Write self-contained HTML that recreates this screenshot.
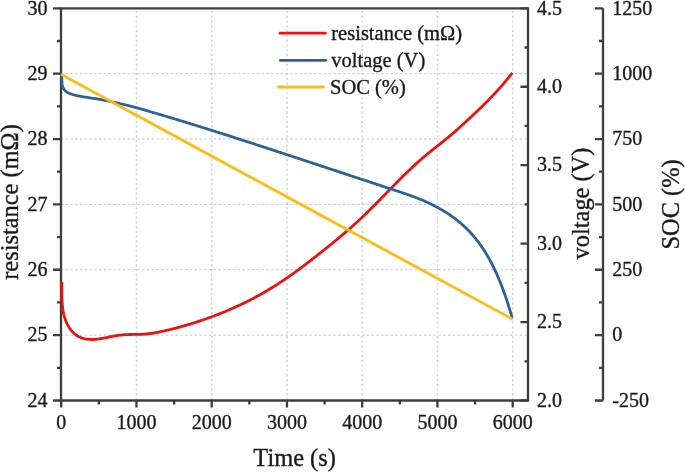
<!DOCTYPE html>
<html><head><meta charset="utf-8"><style>
html,body{margin:0;padding:0;background:#fff;}
body{width:685px;height:472px;overflow:hidden;font-family:"Liberation Serif", serif;}
svg{display:block;will-change:transform;}
</style></head><body>
<svg width="685" height="472" viewBox="0 0 685 472">
<rect width="685" height="472" fill="#fff"/>
<path d="M136.45,8.30V400.50M211.70,8.30V400.50M286.95,8.30V400.50M362.20,8.30V400.50M437.45,8.30V400.50M512.70,8.30V400.50" stroke="#d2d2d2" stroke-width="1.5" stroke-dasharray="2.2,2.58" stroke-dashoffset="-2.6" fill="none"/>
<path d="M61.00,335.13H528.00M61.00,269.77H528.00M61.00,204.40H528.00M61.00,139.03H528.00M61.00,73.67H528.00" stroke="#c4c4c4" stroke-width="1.0" stroke-dasharray="2.4,2.38" stroke-dashoffset="0.2" fill="none"/>
<path d="M61.00,8.30H528.00V400.50H61.00Z" stroke="#3d3d3d" stroke-width="2.3" fill="none"/>
<path d="M61.20,400.50V407.50M136.45,400.50V407.50M211.70,400.50V407.50M286.95,400.50V407.50M362.20,400.50V407.50M437.45,400.50V407.50M512.70,400.50V407.50M98.83,400.50V404.50M174.08,400.50V404.50M249.33,400.50V404.50M324.58,400.50V404.50M399.83,400.50V404.50M475.08,400.50V404.50M61.00,400.50H53.00M61.00,335.13H53.00M61.00,269.77H53.00M61.00,204.40H53.00M61.00,139.03H53.00M61.00,73.67H53.00M61.00,8.30H53.00M61.00,367.82H57.00M61.00,302.45H57.00M61.00,237.08H57.00M61.00,171.72H57.00M61.00,106.35H57.00M61.00,40.98H57.00M528.00,400.50H520.50M528.00,322.06H520.50M528.00,243.62H520.50M528.00,165.18H520.50M528.00,86.74H520.50M528.00,8.30H520.50M528.00,361.28H524.50M528.00,282.84H524.50M528.00,204.40H524.50M528.00,125.96H524.50M528.00,47.52H524.50M603.00,8.30V400.50M603.00,400.50H595.00M603.00,335.13H595.00M603.00,269.77H595.00M603.00,204.40H595.00M603.00,139.03H595.00M603.00,73.67H595.00M603.00,8.30H595.00M603.00,367.82H599.00M603.00,302.45H599.00M603.00,237.08H599.00M603.00,171.72H599.00M603.00,106.35H599.00M603.00,40.98H599.00" stroke="#3d3d3d" stroke-width="2.3" fill="none"/>
<path d="M61.69,282.02L61.72,283.50L61.74,284.97L61.75,286.44L61.76,287.90L61.77,289.36L61.78,290.83L61.79,292.29L61.81,293.75L61.84,295.21L61.87,296.66L61.92,298.12L61.97,299.58L62.05,301.04L62.14,302.51L62.25,303.97L62.38,305.44L62.54,306.91L62.72,308.38L62.94,309.85L63.18,311.31L63.46,312.77L63.77,314.23L64.12,315.67L64.52,317.11L64.96,318.54L65.45,319.95L65.98,321.34L66.57,322.72L67.21,324.08L67.90,325.41L68.65,326.71L69.45,327.97L70.29,329.18L71.19,330.35L72.14,331.46L73.14,332.52L74.19,333.51L75.29,334.43L76.44,335.27L77.64,336.04L78.88,336.72L80.17,337.31L81.50,337.83L82.87,338.27L84.26,338.64L85.69,338.94L87.13,339.17L88.59,339.34L90.07,339.44L91.55,339.49L93.04,339.48L94.53,339.41L96.02,339.30L97.50,339.14L98.98,338.95L100.45,338.72L101.92,338.46L103.38,338.18L104.84,337.88L106.30,337.57L107.76,337.26L109.21,336.95L110.66,336.64L112.11,336.34L113.56,336.07L115.00,335.81L116.45,335.58L117.90,335.37L119.35,335.19L120.80,335.03L122.25,334.89L123.70,334.77L125.16,334.68L126.62,334.61L128.09,334.56L129.56,334.51L131.03,334.48L132.50,334.46L133.97,334.44L135.44,334.41L136.92,334.39L138.39,334.36L139.86,334.32L141.33,334.26L142.80,334.19L144.26,334.10L145.73,333.98L147.19,333.84L148.64,333.68L150.10,333.49L151.55,333.28L153.00,333.06L154.44,332.82L155.89,332.56L157.33,332.29L158.78,332.01L160.22,331.72L161.66,331.43L163.09,331.12L164.53,330.81L165.97,330.49L167.40,330.17L168.83,329.83L170.27,329.49L171.70,329.14L173.13,328.79L174.55,328.42L175.98,328.05L177.40,327.68L178.83,327.30L180.25,326.91L181.67,326.52L183.09,326.12L184.50,325.71L185.92,325.30L187.33,324.89L188.74,324.46L190.15,324.04L191.56,323.61L192.97,323.17L194.37,322.73L195.78,322.28L197.18,321.83L198.58,321.37L199.98,320.91L201.37,320.44L202.76,319.97L204.16,319.49L205.55,319.01L206.93,318.52L208.32,318.03L209.70,317.53L211.08,317.02L212.46,316.51L213.84,316.00L215.21,315.48L216.59,314.95L217.96,314.42L219.32,313.88L220.69,313.34L222.05,312.79L223.41,312.24L224.77,311.68L226.13,311.11L227.48,310.54L228.83,309.97L230.18,309.38L231.53,308.80L232.87,308.21L234.21,307.61L235.55,307.00L236.88,306.40L238.22,305.78L239.55,305.16L240.87,304.53L242.20,303.90L243.52,303.26L244.84,302.62L246.15,301.97L247.47,301.32L248.78,300.66L250.08,299.99L251.39,299.32L252.69,298.64L253.99,297.96L255.28,297.27L256.58,296.57L257.86,295.87L259.15,295.17L260.43,294.45L261.71,293.73L262.99,293.01L264.26,292.28L265.53,291.54L266.80,290.80L268.06,290.05L269.32,289.30L270.58,288.54L271.83,287.77L273.08,287.00L274.32,286.22L275.57,285.44L276.81,284.65L278.04,283.85L279.27,283.05L280.50,282.24L281.73,281.43L282.95,280.61L284.17,279.79L285.39,278.96L286.60,278.13L287.81,277.30L289.02,276.45L290.23,275.61L291.43,274.76L292.63,273.91L293.83,273.05L295.02,272.19L296.22,271.32L297.41,270.45L298.59,269.58L299.78,268.70L300.96,267.82L302.15,266.94L303.32,266.05L304.50,265.17L305.68,264.27L306.85,263.38L308.02,262.48L309.19,261.59L310.36,260.69L311.52,259.78L312.69,258.88L313.85,257.97L315.01,257.06L316.17,256.15L317.33,255.24L318.49,254.33L319.64,253.42L320.80,252.50L321.95,251.59L323.11,250.67L324.26,249.75L325.41,248.83L326.55,247.91L327.70,246.99L328.85,246.07L329.99,245.15L331.13,244.22L332.28,243.30L333.41,242.37L334.55,241.44L335.69,240.51L336.82,239.57L337.95,238.64L339.08,237.70L340.21,236.76L341.33,235.81L342.45,234.87L343.57,233.92L344.69,232.97L345.81,232.02L346.92,231.06L348.03,230.10L349.13,229.14L350.24,228.17L351.34,227.20L352.44,226.23L353.53,225.25L354.62,224.27L355.71,223.29L356.79,222.30L357.88,221.31L358.95,220.31L360.03,219.31L361.10,218.31L362.16,217.30L363.23,216.28L364.29,215.27L365.35,214.25L366.40,213.22L367.45,212.20L368.50,211.17L369.55,210.14L370.59,209.10L371.64,208.06L372.68,207.02L373.72,205.98L374.75,204.93L375.79,203.89L376.82,202.84L377.85,201.79L378.88,200.74L379.91,199.69L380.94,198.63L381.97,197.58L383.00,196.52L384.03,195.47L385.06,194.41L386.08,193.36L387.11,192.30L388.14,191.24L389.16,190.19L390.19,189.13L391.22,188.08L392.25,187.03L393.28,185.97L394.31,184.92L395.34,183.87L396.38,182.82L397.41,181.78L398.45,180.73L399.49,179.69L400.53,178.65L401.57,177.61L402.61,176.58L403.66,175.54L404.71,174.51L405.76,173.49L406.82,172.46L407.87,171.44L408.93,170.43L410.00,169.41L411.06,168.41L412.13,167.40L413.21,166.40L414.28,165.40L415.37,164.41L416.45,163.43L417.54,162.45L418.64,161.47L419.73,160.50L420.84,159.53L421.95,158.57L423.06,157.62L424.18,156.67L425.30,155.73L426.43,154.79L427.56,153.86L428.69,152.93L429.83,152.01L430.98,151.09L432.12,150.17L433.27,149.26L434.41,148.34L435.56,147.43L436.71,146.52L437.86,145.61L439.01,144.70L440.16,143.79L441.31,142.87L442.45,141.96L443.60,141.04L444.74,140.11L445.88,139.19L447.01,138.26L448.14,137.32L449.27,136.38L450.39,135.44L451.51,134.49L452.63,133.54L453.74,132.58L454.85,131.62L455.96,130.66L457.06,129.69L458.16,128.72L459.26,127.75L460.35,126.77L461.45,125.79L462.54,124.80L463.63,123.82L464.71,122.83L465.80,121.83L466.88,120.84L467.96,119.84L469.03,118.84L470.11,117.84L471.19,116.83L472.26,115.83L473.33,114.82L474.40,113.81L475.47,112.80L476.53,111.78L477.60,110.77L478.66,109.75L479.72,108.72L480.77,107.70L481.83,106.67L482.88,105.64L483.93,104.61L484.97,103.57L486.01,102.53L487.05,101.49L488.08,100.44L489.11,99.39L490.14,98.33L491.16,97.28L492.18,96.21L493.19,95.15L494.20,94.08L495.20,93.00L496.20,91.92L497.20,90.84L498.19,89.75L499.17,88.66L500.15,87.56L501.12,86.45L502.08,85.35L503.04,84.23L504.00,83.11L504.94,81.99L505.89,80.86L506.82,79.72L507.75,78.58L508.67,77.43L509.58,76.28L510.49,75.12L511.39,73.96L512.28,72.78" stroke="#ee1111" stroke-width="2.8" fill="none" stroke-linejoin="round"/>
<path d="M61.84,74.02L61.84,75.27L61.83,76.59L61.82,77.97L61.82,79.38L61.86,80.82L61.94,82.26L62.09,83.68L62.32,85.07L62.65,86.41L63.10,87.67L63.67,88.85L64.38,89.92L65.26,90.87L66.28,91.70L67.43,92.42L68.66,93.05L69.97,93.59L71.31,94.08L72.66,94.51L74.01,94.90L75.36,95.25L76.70,95.56L78.05,95.85L79.39,96.12L80.73,96.36L82.08,96.58L83.42,96.80L84.76,97.01L86.10,97.21L87.44,97.41L88.79,97.62L90.13,97.83L91.47,98.05L92.82,98.27L94.16,98.49L95.51,98.72L96.85,98.95L98.20,99.18L99.54,99.42L100.89,99.66L102.23,99.91L103.58,100.16L104.92,100.41L106.27,100.67L107.61,100.93L108.96,101.20L110.30,101.47L111.64,101.75L112.98,102.03L114.32,102.31L115.66,102.60L117.00,102.90L118.34,103.20L119.68,103.50L121.01,103.81L122.35,104.12L123.68,104.44L125.01,104.76L126.34,105.09L127.67,105.42L129.00,105.76L130.33,106.10L131.65,106.44L132.97,106.79L134.30,107.14L135.62,107.50L136.94,107.86L138.26,108.22L139.58,108.59L140.89,108.96L142.21,109.33L143.53,109.70L144.84,110.08L146.16,110.46L147.47,110.84L148.79,111.22L150.10,111.60L151.41,111.98L152.73,112.37L154.04,112.75L155.35,113.14L156.66,113.53L157.98,113.92L159.29,114.30L160.60,114.69L161.91,115.08L163.22,115.47L164.53,115.86L165.84,116.26L167.15,116.65L168.47,117.04L169.78,117.44L171.09,117.83L172.40,118.22L173.71,118.62L175.02,119.02L176.32,119.41L177.63,119.81L178.94,120.21L180.25,120.61L181.56,121.01L182.87,121.40L184.18,121.81L185.49,122.21L186.79,122.61L188.10,123.01L189.41,123.41L190.72,123.81L192.02,124.22L193.33,124.62L194.64,125.03L195.95,125.43L197.25,125.84L198.56,126.24L199.87,126.65L201.17,127.06L202.48,127.47L203.78,127.87L205.09,128.28L206.40,128.69L207.70,129.10L209.01,129.51L210.31,129.92L211.62,130.33L212.92,130.74L214.23,131.16L215.53,131.57L216.84,131.98L218.14,132.39L219.45,132.81L220.75,133.22L222.06,133.64L223.36,134.05L224.67,134.46L225.97,134.88L227.27,135.30L228.58,135.71L229.88,136.13L231.18,136.55L232.49,136.96L233.79,137.38L235.09,137.80L236.40,138.22L237.70,138.64L239.00,139.06L240.31,139.48L241.61,139.90L242.91,140.32L244.22,140.74L245.52,141.16L246.82,141.58L248.12,142.00L249.43,142.42L250.73,142.84L252.03,143.27L253.33,143.69L254.64,144.11L255.94,144.53L257.24,144.96L258.54,145.38L259.84,145.80L261.15,146.23L262.45,146.65L263.75,147.08L265.05,147.50L266.35,147.93L267.66,148.35L268.96,148.78L270.26,149.20L271.56,149.63L272.86,150.05L274.16,150.48L275.46,150.91L276.77,151.33L278.07,151.76L279.37,152.19L280.67,152.61L281.97,153.04L283.27,153.47L284.57,153.89L285.88,154.32L287.18,154.75L288.48,155.18L289.78,155.61L291.08,156.03L292.38,156.46L293.68,156.89L294.98,157.32L296.29,157.75L297.59,158.17L298.89,158.60L300.19,159.03L301.49,159.46L302.79,159.89L304.09,160.32L305.39,160.75L306.69,161.18L307.99,161.61L309.30,162.04L310.60,162.46L311.90,162.89L313.20,163.32L314.50,163.75L315.80,164.18L317.10,164.61L318.40,165.04L319.70,165.47L321.00,165.90L322.30,166.33L323.60,166.76L324.90,167.19L326.20,167.62L327.50,168.05L328.80,168.48L330.11,168.91L331.41,169.34L332.71,169.77L334.01,170.20L335.31,170.63L336.61,171.06L337.91,171.49L339.21,171.92L340.51,172.35L341.81,172.78L343.11,173.20L344.41,173.63L345.71,174.06L347.01,174.49L348.31,174.92L349.61,175.35L350.90,175.78L352.20,176.21L353.50,176.64L354.80,177.07L356.10,177.50L357.40,177.93L358.70,178.36L360.00,178.78L361.30,179.21L362.60,179.64L363.90,180.07L365.20,180.50L366.50,180.93L367.79,181.36L369.09,181.78L370.39,182.21L371.69,182.64L372.99,183.07L374.29,183.50L375.59,183.92L376.88,184.35L378.18,184.78L379.48,185.20L380.78,185.63L382.08,186.06L383.38,186.49L384.67,186.91L385.97,187.34L387.27,187.76L388.57,188.19L389.86,188.62L391.16,189.04L392.46,189.47L393.76,189.89L395.05,190.32L396.35,190.75L397.65,191.18L398.94,191.61L400.24,192.04L401.53,192.47L402.82,192.91L404.11,193.35L405.40,193.80L406.69,194.24L407.98,194.70L409.26,195.15L410.55,195.61L411.83,196.08L413.11,196.55L414.39,197.03L415.66,197.52L416.94,198.01L418.21,198.51L419.47,199.01L420.74,199.53L422.00,200.05L423.26,200.58L424.52,201.12L425.77,201.67L427.02,202.23L428.27,202.80L429.51,203.38L430.75,203.97L431.98,204.57L433.21,205.19L434.44,205.81L435.66,206.45L436.88,207.10L438.09,207.75L439.30,208.42L440.50,209.11L441.69,209.80L442.88,210.50L444.06,211.22L445.24,211.94L446.40,212.68L447.56,213.43L448.72,214.19L449.86,214.96L450.99,215.75L452.12,216.54L453.24,217.35L454.35,218.16L455.45,218.99L456.54,219.83L457.62,220.68L458.68,221.54L459.74,222.42L460.79,223.30L461.82,224.20L462.85,225.11L463.86,226.02L464.86,226.95L465.85,227.89L466.82,228.85L467.79,229.81L468.74,230.78L469.67,231.77L470.60,232.76L471.51,233.77L472.41,234.79L473.30,235.81L474.18,236.85L475.05,237.89L475.90,238.95L476.74,240.01L477.57,241.09L478.39,242.17L479.20,243.26L480.00,244.36L480.79,245.47L481.57,246.58L482.33,247.71L483.09,248.84L483.83,249.98L484.57,251.13L485.29,252.28L486.01,253.44L486.71,254.61L487.41,255.79L488.10,256.97L488.77,258.16L489.44,259.35L490.10,260.55L490.75,261.76L491.39,262.97L492.02,264.19L492.64,265.41L493.25,266.64L493.86,267.88L494.46,269.11L495.05,270.36L495.63,271.60L496.20,272.85L496.77,274.11L497.32,275.37L497.87,276.63L498.42,277.90L498.95,279.17L499.48,280.44L500.00,281.72L500.51,283.00L501.02,284.28L501.52,285.56L502.01,286.85L502.50,288.14L502.98,289.43L503.45,290.72L503.92,292.02L504.39,293.31L504.84,294.61L505.29,295.91L505.74,297.20L506.18,298.50L506.61,299.80L507.04,301.10L507.46,302.40L507.88,303.70L508.30,305.00L508.71,306.30L509.11,307.60L509.51,308.90L509.91,310.19L510.30,311.49L510.69,312.79L511.07,314.08L511.45,315.37L511.82,316.66L512.20,317.95" stroke="#2d6299" stroke-width="2.8" fill="none" stroke-linejoin="round"/>
<path d="M60.90,74.30 C136.20,115.12 437.40,278.38 512.70,319.20" stroke="#fdbb13" stroke-width="2.8" fill="none" stroke-linejoin="round"/>
<g font-family='"Liberation Serif", serif' fill="#1a1a1a" stroke="#1a1a1a" stroke-width="0.35" font-size="20">
<text transform="translate(47.50,406.70) scale(1,1.04)" text-anchor="end">24</text>
<text transform="translate(47.50,341.33) scale(1,1.04)" text-anchor="end">25</text>
<text transform="translate(47.50,275.97) scale(1,1.04)" text-anchor="end">26</text>
<text transform="translate(47.50,210.60) scale(1,1.04)" text-anchor="end">27</text>
<text transform="translate(47.50,145.23) scale(1,1.04)" text-anchor="end">28</text>
<text transform="translate(47.50,79.87) scale(1,1.04)" text-anchor="end">29</text>
<text transform="translate(47.50,14.50) scale(1,1.04)" text-anchor="end">30</text>
<text transform="translate(61.20,429.30) scale(1,1.04)" text-anchor="middle">0</text>
<text transform="translate(136.45,429.30) scale(1,1.04)" text-anchor="middle">1000</text>
<text transform="translate(211.70,429.30) scale(1,1.04)" text-anchor="middle">2000</text>
<text transform="translate(286.95,429.30) scale(1,1.04)" text-anchor="middle">3000</text>
<text transform="translate(362.20,429.30) scale(1,1.04)" text-anchor="middle">4000</text>
<text transform="translate(437.45,429.30) scale(1,1.04)" text-anchor="middle">5000</text>
<text transform="translate(512.70,429.30) scale(1,1.04)" text-anchor="middle">6000</text>
<text transform="translate(537.00,406.70) scale(1,1.04)">2.0</text>
<text transform="translate(537.00,328.26) scale(1,1.04)">2.5</text>
<text transform="translate(537.00,249.82) scale(1,1.04)">3.0</text>
<text transform="translate(537.00,171.38) scale(1,1.04)">3.5</text>
<text transform="translate(537.00,92.94) scale(1,1.04)">4.0</text>
<text transform="translate(537.00,14.50) scale(1,1.04)">4.5</text>
<text transform="translate(612.30,406.70) scale(1,1.04)">-250</text>
<text transform="translate(612.30,341.33) scale(1,1.04)">0</text>
<text transform="translate(612.30,275.97) scale(1,1.04)">250</text>
<text transform="translate(612.30,210.60) scale(1,1.04)">500</text>
<text transform="translate(612.30,145.23) scale(1,1.04)">750</text>
<text transform="translate(612.30,79.87) scale(1,1.04)">1000</text>
<text transform="translate(612.30,14.50) scale(1,1.04)">1250</text>
</g>
<g font-family='"Liberation Serif", serif' fill="#1a1a1a" stroke="#1a1a1a" stroke-width="0.35" font-size="24.4">
<text x="294.60" y="466.30" text-anchor="middle">Time (s)</text>
<text transform="translate(18.00,202.00) rotate(-90)" text-anchor="middle">resistance (mΩ)</text>
<text transform="translate(589.00,203.50) rotate(-90)" text-anchor="middle">voltage (V)</text>
<text transform="translate(678.50,204.40) rotate(-90)" text-anchor="middle">SOC (%)</text>
</g>
<path d="M280,33.2H325.3" stroke="#ee1111" stroke-width="2.8" stroke-linecap="round"/>
<path d="M280.3,60.3H325.8" stroke="#2d6299" stroke-width="2.8" stroke-linecap="round"/>
<path d="M278.6,87H323.6" stroke="#fdbb13" stroke-width="2.8" stroke-linecap="round"/>
<g font-family='"Liberation Serif", serif' fill="#1a1a1a" stroke="#1a1a1a" stroke-width="0.35" font-size="20.5">
<text x="331.3" y="40.00">resistance (mΩ)</text>
<text x="331.3" y="67.00">voltage (V)</text>
<text x="330" y="94.00">SOC (%)</text>
</g>
</svg>
</body></html>
